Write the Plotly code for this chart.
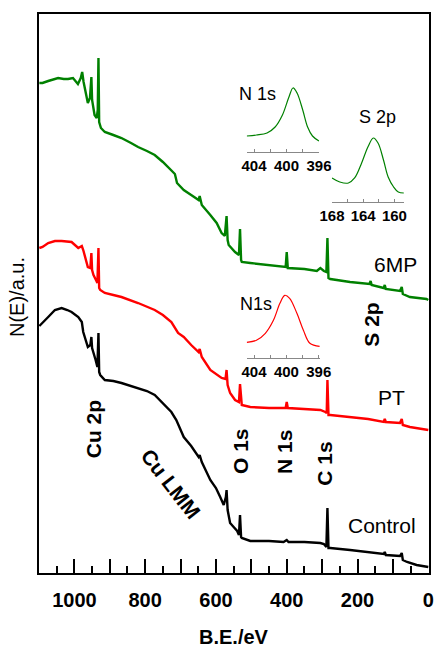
import plotly.graph_objects as go

# ---------------- data ----------------
# Binding energy (eV) and intensity (a.u.) for each survey spectrum
control_be = [1099, 1090, 1074, 1055, 1036, 1020, 1008, 989, 979, 975, 968, 962, 955, 952, 950, 946, 940, 935, 932, 930,
              927, 914, 890, 867, 840, 820, 795, 773, 750, 726, 712, 691, 670, 649, 646, 640, 616, 600, 588, 578, 572,
              570, 567, 560, 550, 540, 535, 532, 529, 527, 503, 450, 409, 400, 395, 350, 305, 295, 288, 285, 282, 277,
              221, 170, 126, 123, 120, 80, 75, 72, 60, 33, 5, 0]
control_i = [247, 250, 256, 263, 265, 263, 261, 256, 251, 241, 233, 226, 228, 236, 225, 221, 213, 206, 240, 201,
             198, 193, 192, 190, 187, 185, 182, 178, 170, 161, 153, 136, 127, 116, 118, 111, 93, 85, 76, 68, 76,
             83, 63, 50, 46, 42, 38, 58, 36, 35, 32, 32, 31, 33, 31, 31, 30, 29, 26, 65, 25, 25,
             23, 21, 19, 21, 18, 17, 20, 13, 11, 8, 6, 6]

pt_be = [1099, 1090, 1074, 1055, 1036, 1020, 1008, 989, 979, 975, 971, 962, 955, 952, 950, 946, 939, 935, 932, 930,
         927, 914, 890, 867, 820, 773, 750, 726, 707, 691, 670, 649, 646, 640, 616, 600, 584, 573, 570, 567,
         560, 546, 535, 532, 529, 527, 503, 450, 403, 400, 397, 350, 305, 291, 287, 285, 282, 277, 221, 170,
         126, 123, 120, 80, 75, 72, 52, 33, 5, 0]
pt_i = [325, 326, 330, 332, 332, 331, 331, 325, 327, 323, 318, 306, 305, 320, 303, 298, 293, 290, 325, 285,
        283, 280, 278, 276, 270, 263, 258, 251, 240, 236, 228, 221, 224, 216, 203, 199, 195, 194, 203, 188,
        180, 173, 171, 189, 169, 168, 166, 165, 165, 171, 165, 164, 163, 161, 160, 193, 158, 158, 156, 154,
        151, 154, 151, 150, 154, 148, 146, 145, 144, 143]

mp_be = [1099, 1090, 1074, 1055, 1046, 1030, 1018, 1004, 990, 982, 978, 974, 971, 962, 956, 952, 950, 943, 937, 934,
         932, 930, 925, 914, 890, 867, 840, 820, 795, 773, 750, 726, 716, 710, 691, 670, 649, 646, 640, 616,
         598, 584, 575, 570, 567, 564, 546, 535, 532, 529, 527, 503, 450, 409, 403, 400, 397, 350, 315, 305,
         295, 288, 285, 282, 277, 221, 166, 163, 160, 126, 123, 120, 80, 75, 72, 52, 5, 0]
mp_i = [490, 490, 492, 494, 495, 494, 494, 495, 489, 495, 501, 491, 485, 470, 475, 496, 473, 458, 455, 463,
        515, 451, 445, 441, 438, 435, 430, 426, 422, 418, 411, 403, 399, 390, 383, 378, 373, 377, 368, 358,
        350, 340, 337, 357, 333, 328, 321, 318, 344, 313, 311, 310, 308, 306, 306, 321, 305, 304, 302, 305,
        302, 301, 335, 295, 294, 291, 289, 292, 288, 285, 288, 284, 282, 286, 279, 276, 274, 273]

# High-resolution insets
n1s_6mp_be = [404.9, 403.7, 402.4, 401.4, 400.5, 399.7, 399.2, 398.7, 398.0, 397.4, 396.8, 396.0]
n1s_6mp_i = [16, 17, 19, 25, 37, 55, 64, 59, 42, 25, 16, 11]

s2p_6mp_be = [168.0, 167.0, 165.9, 165.1, 164.2, 163.4, 162.7, 162.1, 161.4, 160.8, 160.1, 159.5, 158.8]
s2p_6mp_i = [24, 20, 19, 24, 39, 55, 64, 59, 42, 25, 15, 10, 9]

n1s_pt_be = [404.9, 403.7, 402.6, 401.6, 400.8, 400.2, 399.6, 398.7, 397.9, 397.1, 395.9]
n1s_pt_i = [16, 18, 25, 38, 55, 63, 60, 45, 28, 15, 12]

main_ticks = [1000, 900, 800, 700, 600, 500, 400, 300, 200, 100, 0]
main_ticktext = ["1000", "", "800", "", "600", "", "400", "", "200", "", "0"]
n1s_ticks = [404, 402, 400, 398, 396]
n1s_ticktext = ["404", "", "400", "", "396"]
s2p_ticks = [168, 166, 164, 162, 160]
s2p_ticktext = ["168", "", "164", "", "160"]

GREEN = "rgb(0,128,0)"
RED = "rgb(255,0,0)"
BLACK = "rgb(0,0,0)"
FONT = "Liberation Sans, Arial, sans-serif"

fig = go.Figure()
fig.add_trace(go.Scatter(x=control_be, y=control_i, mode="lines", line=dict(color=BLACK, width=2.4), name="Control"))
fig.add_trace(go.Scatter(x=pt_be, y=pt_i, mode="lines", line=dict(color=RED, width=2.4), name="PT"))
fig.add_trace(go.Scatter(x=mp_be, y=mp_i, mode="lines", line=dict(color=GREEN, width=2.4), name="6MP"))

fig.add_trace(go.Scatter(x=n1s_6mp_be, y=n1s_6mp_i, mode="lines", line=dict(color=GREEN, width=1.2, shape="spline"),
                         xaxis="x2", yaxis="y2"))
fig.add_trace(go.Scatter(x=s2p_6mp_be, y=s2p_6mp_i, mode="lines", line=dict(color=GREEN, width=1.2, shape="spline"),
                         xaxis="x3", yaxis="y3"))
fig.add_trace(go.Scatter(x=n1s_pt_be, y=n1s_pt_i, mode="lines", line=dict(color=RED, width=1.2, shape="spline"),
                         xaxis="x4", yaxis="y4"))

inset_x = dict(showline=True, linecolor="#888888", linewidth=1, ticks="inside", ticklen=3, tickcolor="#888888",
               tickwidth=1, showgrid=False, zeroline=False, automargin=False,
               tickfont=dict(family=FONT, size=15, color="black", weight="bold"), ticklabelstandoff=0)
inset_y = dict(visible=False, range=[0, 70], showgrid=False, zeroline=False, automargin=False)

fig.update_layout(
    width=435, height=648,
    margin=dict(l=39, r=6, t=14, b=75, autoexpand=False),
    paper_bgcolor="white", plot_bgcolor="white",
    showlegend=False,
    font=dict(family=FONT, color="black"),
    xaxis=dict(range=[1100, -2], showline=True, linecolor="black", linewidth=2, mirror=True,
               ticks="inside", ticklen=14, tickwidth=1.5, tickcolor="black",
               tickvals=main_ticks, ticktext=main_ticktext, automargin=False,
               minor=dict(dtick=50, tick0=0, ticks="inside", ticklen=7, tickwidth=1.5, tickcolor="black"),
               tickfont=dict(family=FONT, size=20, color="black", weight="bold"), ticklabelstandoff=8,
               showgrid=False, zeroline=False),
    yaxis=dict(range=[0, 559], showline=True, linecolor="black", linewidth=2, mirror=True, automargin=False,
               showticklabels=False, ticks="", showgrid=False, zeroline=False),
    xaxis2=dict(domain=[0.5326, 0.7187], range=[404.9, 395.96], anchor="y2",
                tickvals=n1s_ticks, ticktext=n1s_ticktext, **inset_x),
    yaxis2=dict(domain=[0.7531, 0.8784], anchor="x2", **inset_y),
    xaxis3=dict(domain=[0.7505, 0.9367], range=[168.04, 158.73], anchor="y3",
                tickvals=s2p_ticks, ticktext=s2p_ticktext, **inset_x),
    yaxis3=dict(domain=[0.6637, 0.7889], anchor="x3", **inset_y),
    xaxis4=dict(domain=[0.5326, 0.7205], range=[404.9, 395.85], anchor="y4",
                tickvals=n1s_ticks, ticktext=n1s_ticktext, **inset_x),
    yaxis4=dict(domain=[0.3841, 0.5093], anchor="x4", **inset_y),
)

def label(text, x, y, size, bold=False, angle=0):
    fig.add_annotation(text=f"<b>{text}</b>" if bold else text, x=x, y=y, xref="paper", yref="paper",
                       showarrow=False, xanchor="center", yanchor="middle", textangle=angle,
                       font=dict(family=FONT, size=size, color="black"))

label("Cu 2p", 0.1392, 0.2576, 21, True, -90)
label("Cu LMM", 0.3397, 0.1592, 21, True, 52)
label("O 1s", 0.5154, 0.2182, 21, True, -90)
label("N 1s", 0.6308, 0.2165, 21, True, -90)
label("C 1s", 0.7333, 0.1955, 21, True, -90)
label("S 2p", 0.8531, 0.4437, 21, True, -90)
label("6MP", 0.9136, 0.551, 21)
label("PT", 0.9044, 0.3143, 21)
label("Control", 0.8787, 0.0841, 21)
label("N 1s", 0.5595, 0.8564, 18)
label("S 2p", 0.8679, 0.8163, 18)
label("N1s", 0.5556, 0.4812, 18)
label("N(E)/a.u.", -0.0564, 0.4937, 20, False, -90)
label("B.E./eV", 0.5, -0.1145, 20, True)

fig.write_html("out.html")
